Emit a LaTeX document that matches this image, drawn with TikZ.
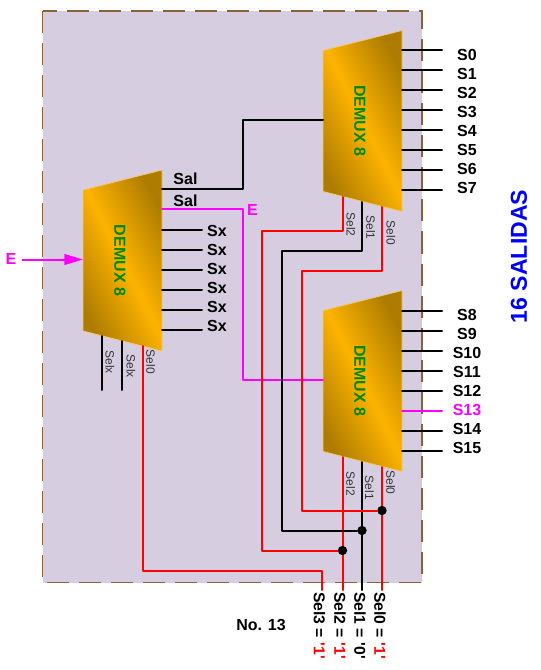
\documentclass[tikz,border=0pt]{standalone}
\usepackage{fontspec}
\setmainfont{Liberation Sans}
\usetikzlibrary{arrows.meta}
\definecolor{panelfill}{HTML}{D6CDE0}
\definecolor{panelline}{HTML}{8C6239}
\definecolor{muxdark}{HTML}{AE7C00}
\definecolor{muxlight}{HTML}{FDB300}
\definecolor{muxedge}{HTML}{F8C868}
\definecolor{muxtext}{HTML}{008A00}
\definecolor{pinkline}{HTML}{FF00FF}
\definecolor{redline}{HTML}{FF0000}
\definecolor{blueline}{HTML}{0000FF}
\tikzset{
	demux/.style={draw=muxedge, line width=0.6pt, line join=round,
		top color=muxdark, bottom color=muxdark, middle color=muxlight, shading angle=-63},
	muxlbl/.style={rotate=-90, text=muxtext, font=\bfseries\fontsize{12}{12}\selectfont},
	wire/.style={line width=1.5pt, line join=round, line cap=round},
	redwire/.style={wire, redline},
	pinkwire/.style={wire, pinkline},
	outlbl/.style={font=\bfseries\fontsize{12}{12}\selectfont},
	sellbl/.style={rotate=-90, text=black!80, font=\fontsize{9}{9}\selectfont},
	pinlbl/.style={rotate=-90, anchor=west, inner sep=0pt, font=\bfseries\fontsize{11.8}{12}\selectfont},
	joint/.style={circle, fill=black, inner sep=0pt, minimum size=7pt}
}
\begin{document}
\begin{tikzpicture}[x=0.75pt, y=-0.75pt]
	\useasboundingbox (0,0) rectangle (541,670);
	
	% Panel
	\fill[panelfill] (42.5,11) rectangle (422,582.5);
	\draw[panelline, line width=1.2pt, dash pattern=on 16.5pt off 7.5pt] (42.5,11) rectangle (422,582.5);
	
	% Demultiplexers
	\foreach \nm/\cx/\cy in {dmL/122.5/260.5, dmT/362.5/121, dmB/362.5/381} {
		\begin{scope}[shift={(\cx,\cy)}]
			\draw[demux] (-39.5,-70.5) -- (39.5,-90.5) -- (39.5,90.5) -- (-39.5,70.5) -- cycle;
			\coordinate (\nm-in) at (-39.5,-1);
			\node[muxlbl] (\nm) at (-2.5,0) {DEMUX 8};
		\end{scope}
	}
	
	% Outputs of the first stage
	\foreach \i [evaluate=\i as \yy using 50.5+20*\i, evaluate=\i as \yl using 55+19*\i] in {0,...,7} {
		\coordinate (aS\i) at (402,\yy);
		\coordinate (bS\i) at (442,\yy);
		\draw[wire] (aS\i) -- (bS\i);
		\node[outlbl] (lblS\i) at (467,\yl) {S\i};
	}
	
	% Outputs of the second stage
	\foreach \i [evaluate=\i as \yy using 150.5+20*\i, evaluate=\i as \yl using 163+19*\i] in {8,9,10,11,12,14,15} {
		\coordinate (aS\i) at (402,\yy);
		\coordinate (bS\i) at (442,\yy);
		\draw[wire] (aS\i) -- (bS\i);
		\node[outlbl] (lblS\i) at (467,\yl) {S\i};
	}
	\coordinate (aS13) at (402,410.5);
	\coordinate (bS13) at (442,410.5);
	\draw[pinkwire] (aS13) -- (bS13);
	\node[outlbl, text=pinkline] (lblS13) at (467,410) {S13};
	
	% Unused outputs of the left block
	\foreach \i [evaluate=\i as \yy using 229.5+20*\i, evaluate=\i as \yl using 231+19*\i] in {0,...,5} {
		\coordinate (aX\i) at (162,\yy);
		\coordinate (bX\i) at (202,\yy);
		\draw[wire] (aX\i) -- (bX\i);
		\node[outlbl] (lblX\i) at (217,\yl) {Sx};
	}
	
	% Enable
	\node[outlbl, text=pinkline] (lblEin) at (11,259) {E};
	\coordinate (eIn) at (22,259.5);
	\draw[-{Triangle[length=14pt, width=8pt]}, pinkwire, line cap=butt] (eIn) -- (dmL-in);
	
	% Sal lines to the second stage
	\coordinate (salA) at (162,189.5);
	\coordinate (salB) at (162,209.5);
	\draw[wire] (salA) -| (243,120) -- (dmT-in);
	\draw[pinkwire] (salB) -| (243,380) -- (dmB-in);
	\node[outlbl] (lblSalA) at (185.5,179) {Sal};
	\node[outlbl] (lblSalB) at (185.5,201) {Sal};
	\node[outlbl, text=pinkline] (lblEout) at (252.5,210) {E};
	
	% Selection inputs, left block
	\coordinate (lSx1) at (102,336);
	\coordinate (eSx1) at (102,390);
	\coordinate (lSx2) at (122,341);
	\coordinate (eSx2) at (122,390);
	\coordinate (lS0) at (142.5,346);
	\coordinate (eS3) at (322,590);
	\draw[wire] (lSx1) -- (eSx1);
	\draw[wire] (lSx2) -- (eSx2);
	\draw[redwire] (lS0) |- (322,570.5) -- (eS3);
	\node[sellbl] (lblLa) at (110,362) {Selx};
	\node[sellbl] (lblLb) at (131,366) {Selx};
	\node[sellbl] (lblLc) at (150.7,362) {Sel0};
	
	% Selection lines of the two lower blocks
	\coordinate (bS2) at (342.5,457);
	\coordinate (bS1) at (362,462);
	\coordinate (bS0) at (382,467);
	\coordinate (eS2) at (342.5,590);
	\coordinate (eS1) at (362,590);
	\coordinate (eS0) at (382,590);
	\draw[redwire] (bS2) -- (eS2);
	\draw[wire] (bS1) -- (eS1);
	\draw[redwire] (bS0) -- (eS0);
	\node[joint] (jS2) at (342.5,550.5) {};
	\node[joint] (jS1) at (362,530.5) {};
	\node[joint] (jS0) at (382,510.5) {};
	\coordinate (tS2) at (342.5,197);
	\coordinate (tS1) at (362,202);
	\coordinate (tS0) at (382,207);
	\draw[redwire] (tS2) |- (262,231) -- (262,550.5) -- (jS2);
	\draw[wire] (tS1) |- (282,250.5) -- (282,530.5) -- (jS1);
	\draw[redwire] (tS0) |- (302,270.5) -- (302,510.5) -- (jS0);
	
	% Small labels
	\node[sellbl] (lblTa) at (351,224.5) {Sel2};
	\node[sellbl] (lblTb) at (370.7,227.5) {Sel1};
	\node[sellbl] (lblTc) at (391,233) {Sel0};
	\node[sellbl] (lblBa) at (350.7,484) {Sel2};
	\node[sellbl] (lblBb) at (369.5,487.7) {Sel1};
	\node[sellbl] (lblBc) at (390.7,482.5) {Sel0};
	
	% Selection values
	\node[pinlbl] (valS3) at (319.5,592) {Sel3 = \textcolor{redline}{\textquotesingle1\textquotesingle}};
	\node[pinlbl] (valS2) at (340,592) {Sel2 = \textcolor{redline}{\textquotesingle1\textquotesingle}};
	\node[pinlbl] (valS1) at (360,592) {Sel1 = \textquotesingle0\textquotesingle};
	\node[pinlbl] (valS0) at (380,592) {Sel0 = \textcolor{redline}{\textquotesingle1\textquotesingle}};
	
	% Captions
	\node[outlbl] (lblNo) at (261,624.5) {No. 13};
	\node[rotate=90, text=blueline, font=\bfseries\fontsize{17.3}{18}\selectfont] (lblOut) at (519,256.5) {16 SALIDAS};
\end{tikzpicture}
\end{document}
